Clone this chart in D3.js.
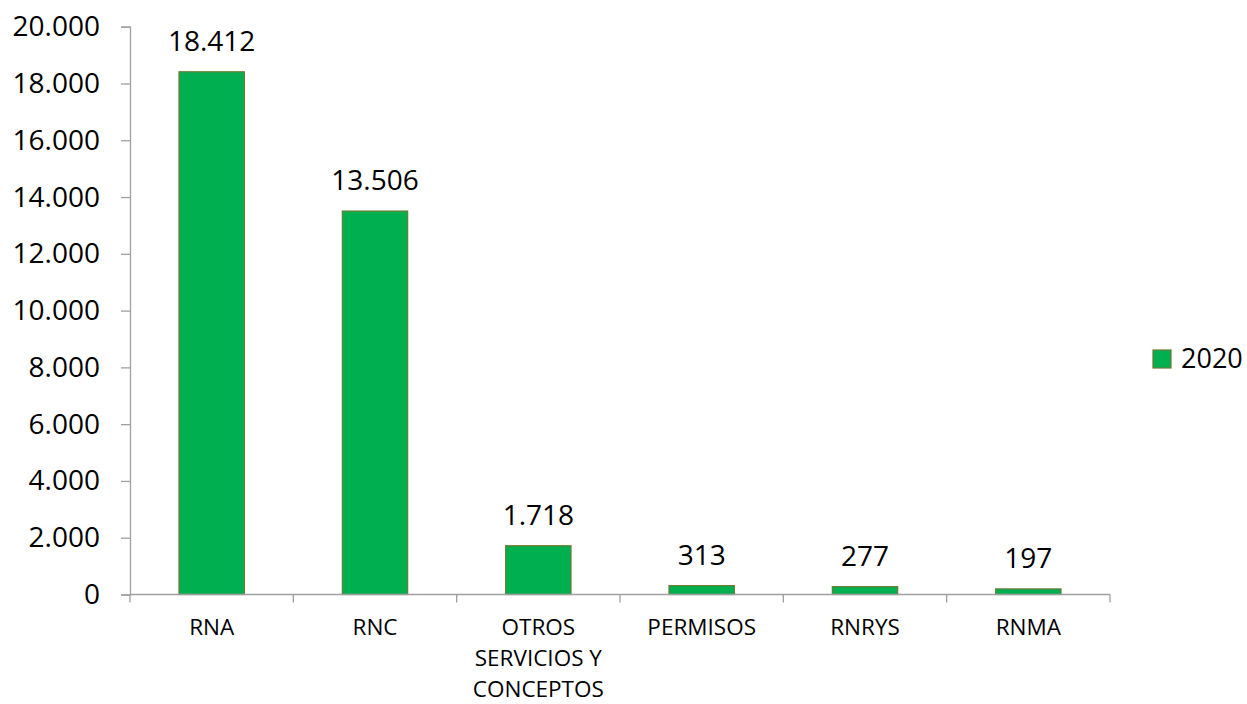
<!DOCTYPE html>
<html>
<head>
<meta charset="utf-8">
<script src="https://cdn.jsdelivr.net/npm/d3@7"></script>
<style>
  body { margin: 0; background: #fff; }
  text { font-family: "Open Sans", "Noto Sans", sans-serif; fill: #000; }
</style>
</head>
<body>
<div id="wrapper"></div>
<script>
const categories = ["RNA", "RNC", "OTROS SERVICIOS Y CONCEPTOS", "PERMISOS", "RNRYS", "RNMA"]
const values2020 = [18412, 13506, 1718, 313, 277, 197]
const seriesName = "2020"
const yTicks = [0, 2000, 4000, 6000, 8000, 10000, 12000, 14000, 16000, 18000, 20000]

const fmt = d3.formatLocale({decimal: ",", thousands: ".", grouping: [3], currency: ["", ""]}).format(",d")

let dimensions = {
    width: 1247,
    height: 704,
    margins: { top: 26.7, right: 137, bottom: 109.5, left: 130 }
}
dimensions.boundedWidth = dimensions.width - dimensions.margins.left - dimensions.margins.right
dimensions.boundedHeight = dimensions.height - dimensions.margins.top - dimensions.margins.bottom

const wrapper = d3.select("#wrapper")
    .append("svg")
        .attr("width", dimensions.width)
        .attr("height", dimensions.height)

const bounds = wrapper.append("g")
    .attr("transform", `translate(${dimensions.margins.left},${dimensions.margins.top})`)

const xScale = d3.scaleBand()
    .domain(categories)
    .range([0, dimensions.boundedWidth])
    .paddingInner(0.6)
    .paddingOuter(0.3)

const step = xScale.step()

const yScale = d3.scaleLinear()
    .domain([0, 20000])
    .range([dimensions.boundedHeight, 0])

const axisColor = "#a0a0a0"

// y axis
const yAxis = bounds.append("g")
    .call(d3.axisLeft(yScale).tickValues(yTicks).tickFormat(fmt).tickSize(9).tickPadding(21))
yAxis.select(".domain").attr("stroke", axisColor).attr("stroke-width", 1.3)
yAxis.selectAll(".tick line").attr("stroke", axisColor).attr("stroke-width", 1.3)
yAxis.selectAll(".tick text")
    .attr("font-size", 28)
    .style("font-family", "'Open Sans', sans-serif")
    .attr("fill", "#000")

// bars
bounds.selectAll("rect.bar")
    .data(values2020)
    .join("rect")
        .attr("class", "bar")
        .attr("x", (d, i) => xScale(categories[i]))
        .attr("width", xScale.bandwidth())
        .attr("y", d => yScale(d))
        .attr("height", d => dimensions.boundedHeight - yScale(d))
        .attr("fill", "#00b050")
        .attr("stroke", "#6b7a32")
        .attr("stroke-width", 1.2)

// value labels
bounds.selectAll("text.value")
    .data(values2020)
    .join("text")
        .attr("class", "value")
        .attr("x", (d, i) => xScale(categories[i]) + xScale.bandwidth() / 2)
        .attr("y", d => yScale(d) - 21)
        .attr("text-anchor", "middle")
        .attr("font-size", 28)
        .text(d => fmt(d))

// x axis line + boundary ticks
const xAxis = bounds.append("g")
    .attr("transform", `translate(0,${dimensions.boundedHeight})`)
xAxis.append("line")
    .attr("x1", 0).attr("x2", dimensions.boundedWidth)
    .attr("stroke", axisColor).attr("stroke-width", 1.3)
xAxis.selectAll("line.tick")
    .data(d3.range(categories.length + 1))
    .join("line")
        .attr("class", "tick")
        .attr("x1", i => i * step).attr("x2", i => i * step)
        .attr("y1", 0).attr("y2", 8)
        .attr("stroke", axisColor).attr("stroke-width", 1.3)

// category labels, wrapped
const wrapWidth = 145
const labels = xAxis.selectAll("text.cat")
    .data(categories)
    .join("text")
        .attr("class", "cat")
        .attr("text-anchor", "middle")
        .attr("font-size", 22.5)
        .attr("x", d => xScale(d) + xScale.bandwidth() / 2)
        .attr("y", 40)

labels.each(function(d) {
    const el = d3.select(this)
    const words = d.split(" ")
    const x = el.attr("x")
    let lines = []
    let line = []
    const probe = el.append("tspan")
    words.forEach(w => {
        line.push(w)
        probe.text(line.join(" "))
        if (probe.node().getComputedTextLength() > wrapWidth && line.length > 1) {
            line.pop()
            lines.push(line.join(" "))
            line = [w]
        }
    })
    lines.push(line.join(" "))
    probe.remove()
    lines.forEach((t, i) => {
        el.append("tspan").attr("x", x).attr("dy", i === 0 ? 0 : 31).text(t)
    })
})

// legend
const legend = wrapper.append("g")
    .attr("transform", `translate(1153,350)`)
legend.append("rect")
    .attr("width", 18).attr("height", 18)
    .attr("fill", "#00b050")
    .attr("stroke", "#6b7a32")
    .attr("stroke-width", 1.2)
legend.append("text")
    .attr("x", 28).attr("y", 17.5)
    .attr("font-size", 27)
    .text(seriesName)
</script>
</body>
</html>
